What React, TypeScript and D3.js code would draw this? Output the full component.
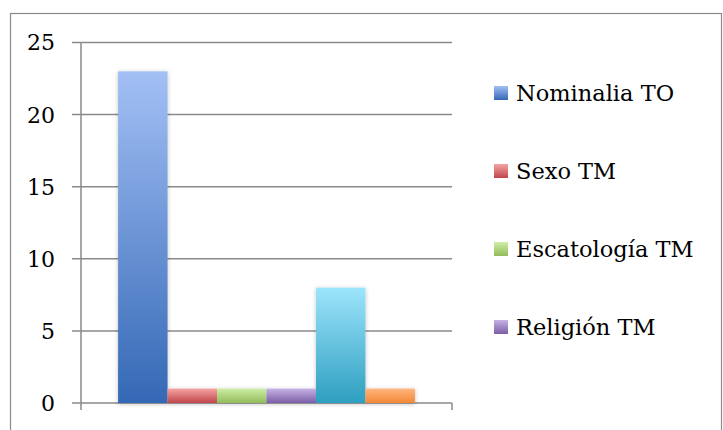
import React from "react";
import * as d3 from "d3";

const seriesNames = ["Nominalia TO", "Sexo TM", "Escatología TM", "Religión TM", "Serie 5", "Serie 6"];
const seriesValues = [23, 1, 1, 1, 8, 1];
const legendNames = ["Nominalia TO", "Sexo TM", "Escatología TM", "Religión TM"];
const yTicks = [0, 5, 10, 15, 20, 25];
const topColors = ["#a3c0f5", "#f5a3a3", "#cdeea6", "#c5b2e3", "#9de4fc", "#ffb580"];
const bottomColors = ["#3468b5", "#c0474b", "#92bc5a", "#7b5ea8", "#2e9fc0", "#f38836"];

const W = 723;
const H = 430;
const plotLeft = 81;
const plotRight = 452;
const plotTop = 42.5;
const plotBottom = 403;
const font = "DejaVu Serif";

export default function App() {
  const y = d3.scaleLinear().domain([0, 25]).range([plotBottom, plotTop]);
  const x = d3
    .scaleBand<string>()
    .domain(seriesNames)
    .range([plotLeft, plotRight])
    .paddingInner(0)
    .paddingOuter(0.75);
  const legendY = d3.scalePoint<string>().domain(legendNames).range([93, 327]);
  const grid = "#8a8a8a";

  return (
    <svg
      width={W}
      height={H}
      style={{ position: "absolute", left: 0, top: 0, background: "#fff" }}
    >
      <defs>
        {seriesNames.map((s, i) => (
          <linearGradient key={s} id={`g${i}`} x1="0" y1="0" x2="0" y2="1">
            <stop offset="0%" stopColor={topColors[i]} />
            <stop offset="100%" stopColor={bottomColors[i]} />
          </linearGradient>
        ))}
        <filter id="sh" x="-20%" y="-20%" width="140%" height="140%">
          <feDropShadow dx="0" dy="1" stdDeviation="2" floodColor="#000" floodOpacity="0.25" />
        </filter>
      </defs>
      <rect x={10.5} y={13.5} width={711} height={440} fill="none" stroke={grid} strokeWidth={1.2} />
      {yTicks.map((t) => (
        <g key={t}>
          <line x1={72} x2={plotRight} y1={y(t)} y2={y(t)} stroke={grid} strokeWidth={1.5} />
          <text
            x={55}
            y={y(t)}
            dy="0.36em"
            textAnchor="end"
            fontFamily={font}
            fontSize={22}
            fill="#000"
          >
            {t}
          </text>
        </g>
      ))}
      <line x1={plotLeft} x2={plotLeft} y1={plotTop} y2={410} stroke={grid} strokeWidth={1.5} />
      <line x1={plotRight} x2={plotRight} y1={plotBottom} y2={410} stroke={grid} strokeWidth={1.5} />
      <g filter="url(#sh)">
        {seriesNames.map((s, i) => (
          <rect
            key={s}
            x={x(s)}
            y={y(seriesValues[i])}
            width={x.bandwidth()}
            height={y(0) - y(seriesValues[i])}
            fill={`url(#g${i})`}
          />
        ))}
      </g>
      {legendNames.map((s, i) => (
        <g key={s}>
          <rect x={494} y={legendY(s)! - 7} width={14} height={14} fill={`url(#g${i})`} />
          <text
            x={516}
            y={legendY(s)}
            dy="0.36em"
            fontFamily={font}
            fontSize={22.5}
            fill="#000"
          >
            {s}
          </text>
        </g>
      ))}
    </svg>
  );
}
